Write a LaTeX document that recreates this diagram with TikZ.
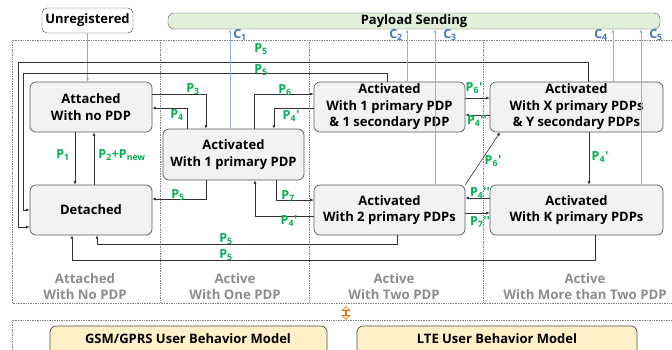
\documentclass[tikz,border=0pt]{standalone}
\usepackage{fontspec}
\setmainfont{Open Sans}
\newfontfamily\lblf{Open Sans}
\usetikzlibrary{arrows.meta,shapes.arrows}
\definecolor{pg}{HTML}{00B050}
\definecolor{cb}{HTML}{4472C4}
\definecolor{cl}{HTML}{8DB4E2}
\definecolor{boxfill}{HTML}{F2F2F2}
\definecolor{payfill}{HTML}{E2EFD9}
\definecolor{ylw}{HTML}{FFF0C8}
\begin{document}
\begin{tikzpicture}[x=1pt,y=-1pt,
  state/.style={draw=black!65, fill=boxfill, rounded corners=6pt, align=center,
    font=\bfseries\fontsize{13}{16.5}\selectfont, line width=0.7pt, inner sep=0pt},
  lbl/.style={text=pg, font=\lblf\bfseries\fontsize{12.5}{13}\selectfont, inner sep=0pt},
  clbl/.style={text=cb, font=\lblf\bfseries\fontsize{12.5}{13}\selectfont, inner sep=0pt},
  col/.style={text=black!45, font=\bfseries\fontsize{13.2}{16}\selectfont, align=center, inner sep=0pt},
  arr/.style={draw=black!80, line width=0.6pt, -{Latex[length=3.5pt,width=3pt]}},
  garr/.style={draw=black!35, line width=0.7pt, -{Latex[length=3.5pt,width=3pt]}},
  carr/.style={draw=cl, line width=0.8pt, -{Latex[length=3.5pt,width=3pt]}},
  frame/.style={draw=black!50, densely dotted, line width=0.7pt},
  model/.style={draw=black!70, fill=ylw, rounded corners=6pt, line width=0.7pt},
  btxt/.style={font=\bfseries\fontsize{13}{15}\selectfont, inner sep=0pt}
]
\clip (0,0) rectangle (672,349);
\useasboundingbox (0,0) rectangle (672,349);
% frames
\draw[frame] (680,40) -- (12,40) -- (12,303) -- (680,303);
\draw[frame] (160,40) -- (160,303);
\draw[frame] (309,40) -- (309,303);
\draw[frame] (483,40) -- (483,303);
\draw[frame] (680,320) -- (12,320) -- (12,360);
% top
\node[draw=black!75, fill=white, rounded corners=5pt, minimum width=91pt, minimum height=25pt, inner sep=0pt,
  btxt] (unreg) at (87.5,20.5) {Unregistered};
\node[draw=black!65, fill=payfill, rounded corners=6pt, minimum width=492pt, minimum height=16pt, inner sep=0pt] (pay) at (414,21) {};
\node[btxt] at (414,21) {Payload Sending};
% states
\node[state, minimum width=122pt, minimum height=50pt] (A) at (91,107) {Attached\\With no PDP};
\node[state, minimum width=122pt, minimum height=50pt] (D) at (91,210) {Detached};
\node[state, minimum width=141pt, minimum height=51pt] (B) at (233.5,154.5) {Activated\\With 1 primary PDP};
\node[state, minimum width=151pt, minimum height=50pt] (C) at (389.5,107) {Activated\\With 1 primary PDP\\\& 1 secondary PDP};
\node[state, minimum width=151pt, minimum height=50pt] (E) at (389.5,210) {Activated\\With 2 primary PDPs};
\node[state, minimum width=173pt, minimum height=50pt] (F) at (576.5,107) {Activated\\With X primary PDPs\\\& Y secondary PDPs};
\node[state, minimum width=173pt, minimum height=50pt] (G) at (576.5,210) {Activated\\With K primary PDPs};
% connectors
\draw[garr] (unreg) -- (unreg |- A.north);
\draw[arr] (75,0 |- A.south) -- (75,0 |- D.north);
\draw[arr] (94,0 |- D.north) -- (94,0 |- A.south);
\draw[arr] (A.east |- 0,94) -| (206,0 |- B.north);
\draw[arr] (187,0 |- B.north) |- (A.east |- 0,108);
\draw[arr] (588,0 |- F.north) |- (18,62) |- (D.west |- 0,227);
\draw[arr] (387,0 |- C.north) |- (23,73) |- (D.west |- 0,210);
\draw[arr] (206,0 |- B.south) |- (D.east |- 0,199);
\draw[arr] (254,0 |- B.north) |- (C.west |- 0,94);
\draw[arr] (C.west |- 0,108) -| (274,0 |- B.north);
\draw[arr] (276,0 |- B.south) |- (E.west |- 0,200);
\draw[arr] (E.west |- 0,216) -| (255,0 |- B.south);
\draw[arr] (C.east |- 0,98) -- (F.west |- 0,98);
\draw[arr] (F.west |- 0,115) -- (C.east |- 0,115);
\draw[arr] (E.north east) -- (500,0 |- F.south);
\draw[arr] (589,0 |- F.south) -- (589,0 |- G.north);
\draw[arr] (G.west |- 0,198) -- (E.east |- 0,198);
\draw[arr] (E.east |- 0,213) -- (G.west |- 0,213);
\draw[arr] (397,0 |- E.south) |- (97,244) -- (97,0 |- D.south);
\draw[arr] (595,0 |- G.south) |- (72,260) -- (72,0 |- D.south);
\draw[carr] (230,0 |- B.north) -- (230,0 |- pay.south);
\draw[carr] (407,0 |- C.north) -- (407,0 |- pay.south);
\draw[carr] (435,0 |- E.north) -- (435,0 |- pay.south);
\draw[carr] (613,0 |- F.north) -- (613,0 |- pay.south);
\draw[carr] (641,0 |- G.north) -- (641,0 |- pay.south);
% labels
\node[clbl] at (240,35) {C\textsubscript{1}};
\node[clbl] at (396,35) {C\textsubscript{2}};
\node[clbl] at (450,35) {C\textsubscript{3}};
\node[clbl] at (601,35) {C\textsubscript{4}};
\node[clbl] at (656,35) {C\textsubscript{5}};
\node[lbl] at (261,49) {P\textsubscript{5}};
\node[lbl] at (261,70) {P\textsubscript{5}};
\node[lbl] at (193,89) {P\textsubscript{3}};
\node[lbl] at (177,115) {P\textsubscript{4}};
\node[lbl] at (63,155) {P\textsubscript{1}};
\node[lbl] at (122,155) {P\textsubscript{2}+P\textsubscript{new}};
\node[lbl] at (285,90) {P\textsubscript{6}};
\node[lbl] at (291,116) {P\textsubscript{4}'};
\node[lbl] at (178,195) {P\textsubscript{5}};
\node[lbl] at (288,196) {P\textsubscript{7}};
\node[lbl] at (289,221) {P\textsubscript{4}'};
\node[lbl] at (474,88) {P\textsubscript{6}'};
\node[lbl] at (477,121) {P\textsubscript{4}''};
\node[lbl] at (493,161) {P\textsubscript{6}'};
\node[lbl] at (600,157) {P\textsubscript{4}'};
\node[lbl] at (480,193) {P\textsubscript{4}''};
\node[lbl] at (480,222) {P\textsubscript{7}''};
\node[lbl] at (226,239) {P\textsubscript{5}};
\node[lbl] at (226,255) {P\textsubscript{5}};
% column titles
\node[col] at (85,287) {Attached\\With No PDP};
\node[col] at (235,287) {Active\\With One PDP};
\node[col] at (394,287) {Active\\With Two PDP};
\node[col] at (585,287) {Active\\With More than Two PDP};
% models
\draw[model] (50,326) rectangle (327,368);
\node[btxt] at (188,339) {GSM/GPRS User Behavior Model};
\draw[model] (357,326) rectangle (637,368);
\node[btxt] at (497,339) {LTE User Behavior Model};
\node[double arrow, rotate=90, draw=orange!85!black, fill=ylw, line width=0.6pt, minimum height=13pt, minimum width=8pt,
  double arrow head extend=2pt, inner sep=0pt] (sw) at (346,313) {};
\end{tikzpicture}
\end{document}
